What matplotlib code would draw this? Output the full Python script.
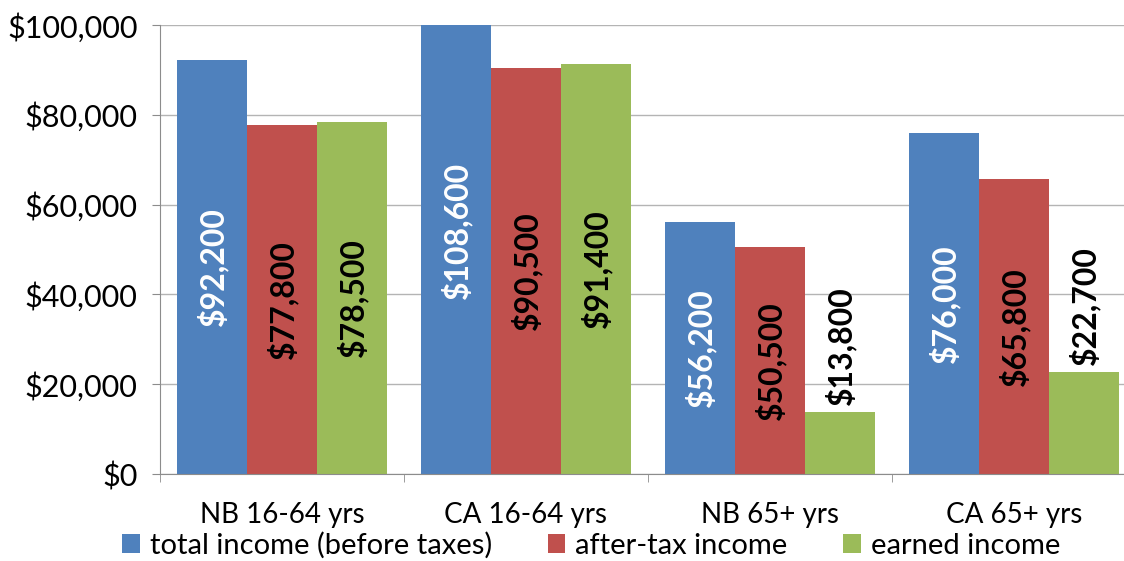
import matplotlib

matplotlib.use("Agg")
from matplotlib import pyplot as plt
from matplotlib.ticker import FuncFormatter
import numpy as np

categories = ["NB 16-64 yrs", "CA 16-64 yrs", "NB 65+ yrs", "CA 65+ yrs"]
series_names = ["total income (before taxes)", "after-tax income", "earned income"]
total_income = [92200, 108600, 56200, 76000]
after_tax_income = [77800, 90500, 50500, 65800]
earned_income = [78500, 91400, 13800, 22700]
y_ticks = [0, 20000, 40000, 60000, 80000, 100000]

colors = ["#4F81BD", "#C0504D", "#9BBB59"]
label_colors = ["white", "black", "black"]

plt.rcParams["font.family"] = ["Lato", "DejaVu Sans"]

fig = plt.figure(figsize=(11.24, 5.61), dpi=100)
ax = fig.add_axes([160 / 1124, 1 - 474 / 561, (1136 - 160) / 1124, (474 - 25) / 561])

x = np.arange(len(categories))
width = 0.287
series = [total_income, after_tax_income, earned_income]
for i, (name, values) in enumerate(zip(series_names, series)):
    pos = x + (i - 1) * width
    ax.bar(pos, values, width=width, color=colors[i], label=name, zorder=2)
    for p, v in zip(pos, values):
        text = f"${v:,.0f}"
        if v < 30000:
            # short bars get their label above the bar
            ax.annotate(text, (p, v), xytext=(0, 5), textcoords="offset points",
                        rotation=90, ha="center", va="bottom", fontsize=23,
                        fontweight="bold", color="black", zorder=3)
        else:
            ax.text(p, v / 2, text, rotation=90, ha="center", va="center",
                    fontsize=23, fontweight="bold", color=label_colors[i], zorder=3)

ax.set_xlim(-0.5, len(categories) - 0.5)
ax.set_ylim(0, 100000)
ax.set_yticks(y_ticks)
ax.yaxis.set_major_formatter(FuncFormatter(lambda v, _: f"${v:,.0f}"))
ax.set_xticks(x)
ax.set_xticklabels(categories)
ax.set_xticks(np.arange(len(categories) + 1) - 0.5, minor=True)
ax.tick_params(axis="x", which="major", length=0, pad=20, labelsize=20)
ax.tick_params(axis="x", which="minor", length=6, color="#8C8C8C")
ax.tick_params(axis="y", length=6, color="#8C8C8C", labelsize=22, pad=10)

ax.grid(axis="y", color="#B4B4B4", linewidth=1, zorder=0)
for side in ["top", "right"]:
    ax.spines[side].set_visible(False)
for side in ["left", "bottom"]:
    ax.spines[side].set_color("#8C8C8C")

fig.legend(loc="center", bbox_to_anchor=(0.526, 0.028), ncol=3, frameon=False,
           fontsize=21, handlelength=0.6, handleheight=0.6, handletextpad=0.35,
           columnspacing=1.9, borderaxespad=0)

fig.savefig("out.png", dpi=100)
